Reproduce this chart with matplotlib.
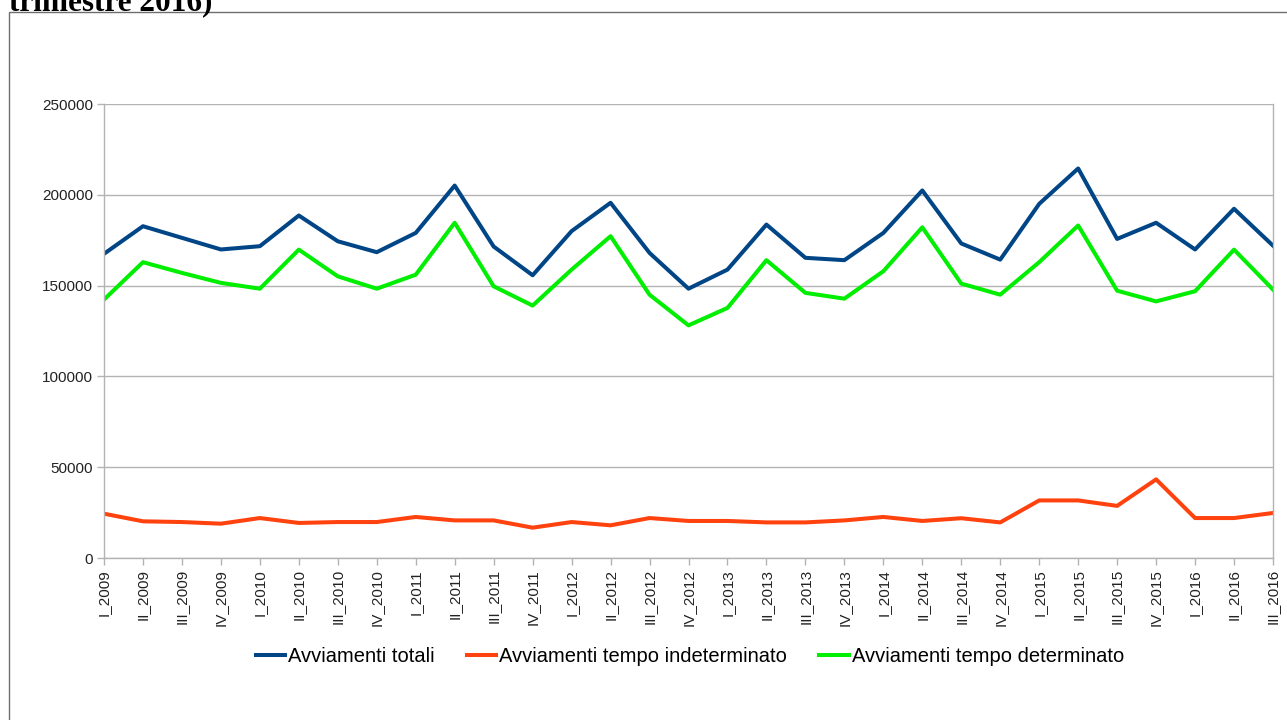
import matplotlib.pyplot as plt
from matplotlib.patches import Rectangle

# quarters from I_2009 to III_2016
quarters = ['I_2009', 'II_2009', 'III_2009', 'IV_2009',
            'I_2010', 'II_2010', 'III_2010', 'IV_2010',
            'I_2011', 'II_2011', 'III_2011', 'IV_2011',
            'I_2012', 'II_2012', 'III_2012', 'IV_2012',
            'I_2013', 'II_2013', 'III_2013', 'IV_2013',
            'I_2014', 'II_2014', 'III_2014', 'IV_2014',
            'I_2015', 'II_2015', 'III_2015', 'IV_2015',
            'I_2016', 'II_2016', 'III_2016']

totali = [167500, 182700, 176300, 169900, 171700, 188600, 174400, 168400,
          179000, 205100, 171500, 155700, 180000, 195600, 168000, 148300,
          158800, 183600, 165300, 164000, 179000, 202400, 173200, 164300,
          195000, 214500, 175700, 184600, 169900, 192300, 172000]

indeterminato = [24400, 20200, 19800, 18900, 22000, 19300, 19800, 19800,
                 22600, 20700, 20700, 16700, 19800, 18000, 22000, 20400,
                 20400, 19600, 19600, 20700, 22600, 20400, 21900, 19600,
                 31700, 31700, 28700, 43300, 22000, 22000, 24800]

determinato = [142300, 162900, 157000, 151500, 148300, 169800, 155100, 148300,
               156000, 184600, 149600, 139000, 158800, 177200, 145000, 128100,
               137700, 164000, 146000, 142800, 157900, 182100, 151100, 145000,
               162900, 183100, 147200, 141300, 146900, 169800, 147800]

yticks = [0, 50000, 100000, 150000, 200000, 250000]

W, H = 1287, 720
fig = plt.figure(figsize=(W / 100, H / 100), dpi=100)

# outer frame of the chart box, running off the right and bottom
fig.patches.append(Rectangle((9 / W, -0.1), 1.2, 1 - 12 / H + 0.1,
                             transform=fig.transFigure, fill=False,
                             edgecolor='#6e6e6e', linewidth=1.0))

fig.text(9 / W, 1 - 10 / H, 'trimestre 2016)', family='Liberation Serif',
         fontweight='bold', fontsize=22.5, ha='left', va='baseline')

ax = fig.add_axes([104 / W, 1 - 558 / H, (1273 - 104) / W, (558 - 104) / H])

x = list(range(len(quarters)))
lw = 2.9
ax.plot(x, totali, color='#004586', linewidth=lw, label='Avviamenti totali')
ax.plot(x, indeterminato, color='#ff420e', linewidth=lw,
        label='Avviamenti tempo indeterminato')
ax.plot(x, determinato, color='#00ee00', linewidth=lw,
        label='Avviamenti tempo determinato')

ax.set_xlim(0, len(quarters) - 1)
ax.set_ylim(0, 250000)
ax.set_yticks(yticks)
ax.set_yticklabels([str(v) for v in yticks])
ax.set_xticks(x)
ax.set_xticklabels(quarters, rotation=90)

for lab in ax.get_xticklabels() + ax.get_yticklabels():
    lab.set_family('Liberation Sans')
    lab.set_fontsize(11)
    lab.set_color('#222222')

ax.grid(axis='y', color='#b3b3b3', linewidth=1.0)
ax.set_axisbelow(True)
ax.tick_params(axis='both', direction='out', length=5, width=1,
               color='#b3b3b3', pad=3)
for side in ['left', 'bottom', 'right']:
    ax.spines[side].set_color('#b3b3b3')
    ax.spines[side].set_linewidth(1.0)
ax.spines['top'].set_visible(False)

fig.legend(loc='center', bbox_to_anchor=(690 / W, 1 - 657 / H), ncol=3,
           frameon=False, prop={'family': 'Liberation Sans', 'size': 14.5},
           handlelength=1.45, handletextpad=0.15, columnspacing=1.6)

fig.savefig('out.png', dpi=100)
